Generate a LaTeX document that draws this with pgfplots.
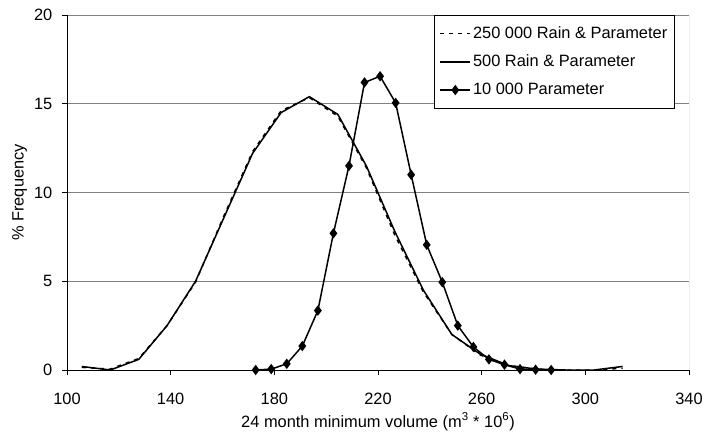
\documentclass[border=0pt]{standalone}
\usepackage{fontspec}
\setmainfont{Liberation Sans}
\usepackage{pgfplots}
\pgfplotsset{compat=1.18}

\definecolor{gridgray}{HTML}{808080}

\begin{document}
\fontsize{16.4bp}{19bp}\selectfont
\begin{tikzpicture}
  % page = 705 x 432 px, axis box lower left at (67,370) px
  \useasboundingbox (-67bp,-62bp) rectangle (638bp,370bp);
  \begin{axis}[
      at={(0,0)}, anchor=south west,
      scale only axis,
      width=622bp, height=355bp,
      xmin=100, xmax=340, ymin=0, ymax=20,
      xtick={100,140,...,340},
      ytick={0,5,...,20},
      axis x line*=bottom, axis y line*=left,
      axis line style={black, line width=0.9bp},
      tick align=outside,
      major tick length=5bp,
      tick style={black, line width=0.9bp},
      ymajorgrids,
      grid style={gridgray, line width=0.9bp},
      /pgf/number format/assume math mode=true,
      /pgf/number format/1000 sep={},
      ticklabel style={font=\fontsize{16.4bp}{19bp}\selectfont},
      yticklabel style={xshift=-4bp},
      xticklabel style={yshift=-12bp},
      xlabel={24 month minimum volume (m\textsuperscript{3} * 10\textsuperscript{6})},
      xlabel style={at={(axis description cs:0.5,0)}, anchor=base, yshift=-57bp},
      ylabel={\% Frequency},
      ylabel style={at={(axis description cs:-0.076,0.5)}, anchor=center},
      legend style={at={(rel axis cs:0.977,1)}, anchor=north east,
        draw=black, line width=0.9bp, fill=white,
        font=\fontsize{16.4bp}{19bp}\selectfont,
        row sep=10bp, inner xsep=5bp, inner ysep=9bp},
      legend cell align=left,
      legend image code/.code={%
        \draw[mark repeat=2, mark phase=2, #1]
          plot coordinates {(0bp,0bp) (15bp,0bp) (30bp,0bp)};},
    ]
    % gray right border of the plot area
    \draw[gridgray, line width=0.9bp] (rel axis cs:1,0) -- (rel axis cs:1,1);

    \addplot[black, line width=1.5bp, dash pattern=on 4bp off 5bp] coordinates {
      (105.7,0.15) (116.7,0.05) (127.7,0.65) (138.6,2.5) (149.6,4.95)
      (160.6,8.7) (171.6,12.3) (182.6,14.6) (193.5,15.35) (204.5,14.3)
      (215.5,11.4) (226.5,7.6) (237.5,4.4) (248.5,2.0) (259.4,0.85)
      (270.4,0.25) (281.4,0.05) (292.4,0.0) (303.4,0.0) (314.4,0.1)
    };
    \addlegendentry{250 000 Rain \& Parameter}

    \addplot[black, line width=1.5bp] coordinates {
      (105.7,0.2) (116.7,0.0) (127.7,0.6) (138.6,2.5) (149.6,5.0)
      (160.6,8.6) (171.6,12.2) (182.6,14.5) (193.5,15.4) (204.5,14.4)
      (215.5,11.5) (226.5,7.8) (237.5,4.5) (248.5,2.0) (259.4,0.9)
      (270.4,0.25) (281.4,0.05) (292.4,0.0) (303.4,0.0) (314.4,0.2)
    };
    \addlegendentry{500 Rain \& Parameter}

    \addplot[black, line width=1.5bp, mark=diamond*, mark size=4bp,
             mark options={solid, fill=black}] coordinates {
      (172.8,0.0) (178.8,0.05) (184.8,0.35) (190.8,1.35) (196.8,3.35)
      (202.8,7.7) (208.8,11.5) (214.8,16.2) (220.8,16.55) (226.8,15.05)
      (232.8,11.0) (238.8,7.05) (244.8,4.95) (250.8,2.5) (256.8,1.3)
      (262.8,0.6) (268.8,0.3) (274.8,0.05) (280.8,0.02) (286.8,0.0)
    };
    \addlegendentry{10 000 Parameter}
  \end{axis}
\end{tikzpicture}
\end{document}
